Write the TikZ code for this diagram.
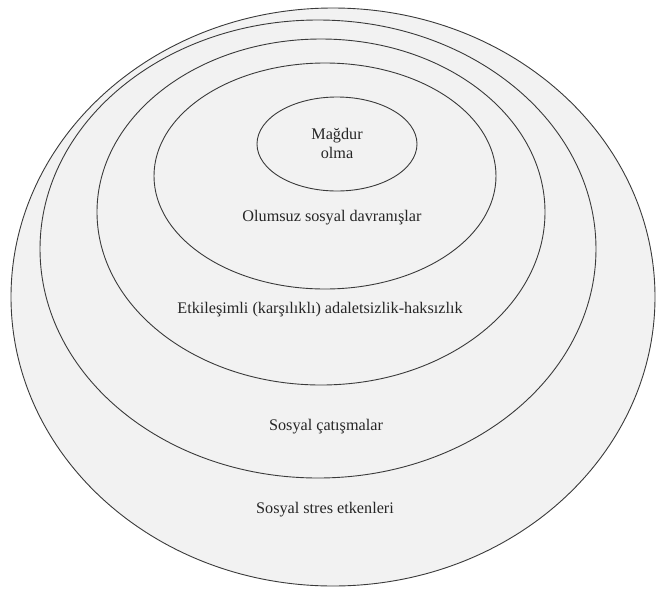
\documentclass[tikz,border=0pt]{standalone}
\usepackage{fontspec}
\setmainfont{Liberation Serif}
\usepackage{xcolor}
\definecolor{ringfill}{HTML}{F2F2F2}
\definecolor{ringline}{HTML}{3A3A3A}

\begin{document}
\begin{tikzpicture}[x=1pt, y=-1pt,
    ring/.style={fill=ringfill, draw=ringline, line width=0.9pt},
    label/.style={font=\rmfamily\fontsize{16.2}{19}\selectfont, text=black!85, align=center}]
    \useasboundingbox (0,0) rectangle (657,590);

    % Outer ring
    \draw[ring] (333,297) ellipse (322 and 289);
    % Second ring
    \draw[ring] (318,249) ellipse (278 and 229);
    % Third ring
    \draw[ring] (321,212) ellipse (224 and 173);
    % Fourth ring
    \draw[ring] (325,176) ellipse (171 and 113);
    % Inner ring
    \draw[ring] (337,144) ellipse (80 and 47);

    % Labels
    \node[label] (magdur) at (337,143) {Mağdur\\olma};
    \node[label] (olumsuz) at (332,218) {Olumsuz sosyal davranışlar};
    \node[label] (etkilesim) at (320,310) {Etkileşimli (karşılıklı) adaletsizlik-haksızlık};
    \node[label] (catisma) at (326,427) {Sosyal çatışmalar};
    \node[label] (stres) at (325,510) {Sosyal stres etkenleri};
\end{tikzpicture}
\end{document}
